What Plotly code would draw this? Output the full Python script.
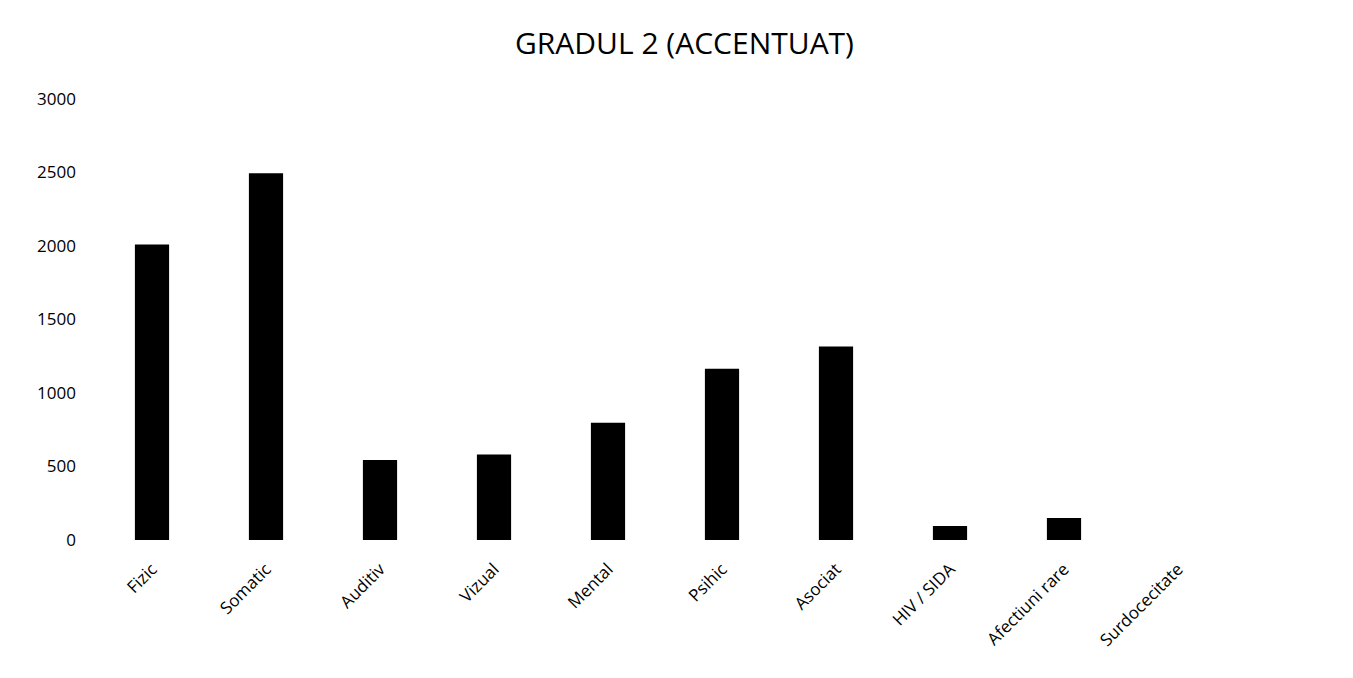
import plotly.graph_objects as go

categories = ["Fizic", "Somatic", "Auditiv", "Vizual", "Mental", "Psihic",
              "Asociat", "HIV / SIDA", "Afectiuni rare", "Surdocecitate"]
values = [2010, 2495, 545, 582, 798, 1165, 1316, 95, 150, 0]
y_ticks = [0, 500, 1000, 1500, 2000, 2500, 3000]

fig = go.Figure(go.Bar(x=categories, y=values, marker_color="black",
                       marker_line_width=0, width=0.3))

fig.update_layout(
    width=1353, height=678,
    margin=dict(l=87, r=126, t=91, b=146),
    paper_bgcolor="white", plot_bgcolor="white",
    title=dict(text="GRADUL 2 (ACCENTUAT)", x=0.5, xanchor="center",
               y=1 - 35/678, yanchor="middle",
               font=dict(family="Open Sans", size=30, color="#000")),
    font=dict(family="Open Sans", color="#000"),
    showlegend=False,
)
fig.update_yaxes(range=[0, 3000], tickvals=y_ticks, showgrid=False,
                 zeroline=False, showline=False, ticks="",
                 tickfont=dict(size=17), ticklabelstandoff=18)
fig.update_xaxes(showgrid=False, showline=False, ticks="", tickangle=-45,
                 tickfont=dict(size=17), ticklabelstandoff=15)

fig.write_html("out.html")
